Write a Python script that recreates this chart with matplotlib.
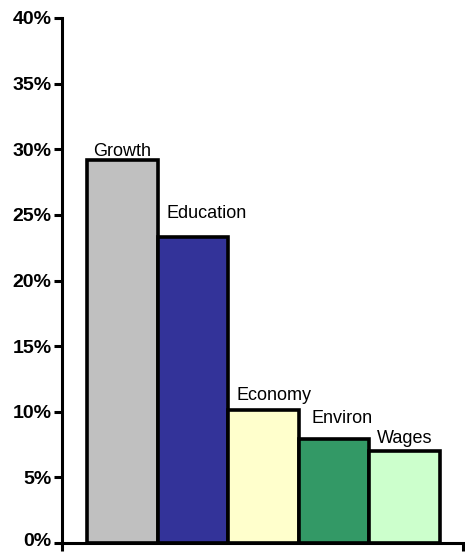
import matplotlib
matplotlib.use("Agg")
import matplotlib.pyplot as plt
import matplotlib.transforms as mtransforms
from matplotlib.ticker import FuncFormatter

# Share of responses by topic (percent)
categories = ["Growth", "Education", "Economy", "Environ", "Wages"]
values = [29.2, 23.3, 10.1, 7.9, 7.0]
colors = ["#C0C0C0", "#333399", "#FFFFCC", "#339966", "#CCFFCC"]
y_ticks = [0, 5, 10, 15, 20, 25, 30, 35, 40]

# label placement: pixel offsets from each bar's top-left corner
label_dx = [6, 9, 8, 13, 8]
label_dy = [4, 19, 10, 16, 8]

plt.rcParams["font.family"] = ["Liberation Sans", "DejaVu Sans"]

fig = plt.figure(figsize=(4.65, 5.52), dpi=100)
ax = fig.add_axes([62 / 465, 9 / 552, 401 / 465, 525 / 552])

x = list(range(len(categories)))
bars = ax.bar(x, values, width=1.0, color=colors, edgecolor="black",
              linewidth=2.6, zorder=2)

for i, (b, name) in enumerate(zip(bars, categories)):
    ax.annotate(name, xy=(b.get_x(), b.get_height()),
                xytext=(label_dx[i], label_dy[i]), textcoords="offset pixels",
                ha="left", va="baseline", fontsize=13, color="black")

ax.set_xlim(-0.854, 4.826)
ax.set_ylim(0, 40)
ax.set_yticks(y_ticks)
ax.yaxis.set_major_formatter(FuncFormatter(lambda v, p: f"{int(v)}%"))
ax.set_xticks([-0.854, 4.826])
ax.set_xticklabels([])

for side in ["top", "right"]:
    ax.spines[side].set_visible(False)
for side in ["left", "bottom"]:
    ax.spines[side].set_linewidth(2.2)

ax.tick_params(axis="y", direction="out", length=5.5, width=2.2, pad=2,
               labelsize=14)
ax.tick_params(axis="x", direction="out", length=5.5, width=2.2)
for lab in ax.get_yticklabels():
    lab.set_fontweight("bold")

# lift the bottom label slightly so it stays inside the canvas
fig.canvas.draw()
bottom_label = ax.yaxis.get_major_ticks()[0].label1
bottom_label.set_transform(bottom_label.get_transform() +
                           mtransforms.ScaledTranslation(0, 3 / 100, fig.dpi_scale_trans))

fig.savefig("out.png", dpi=100)
